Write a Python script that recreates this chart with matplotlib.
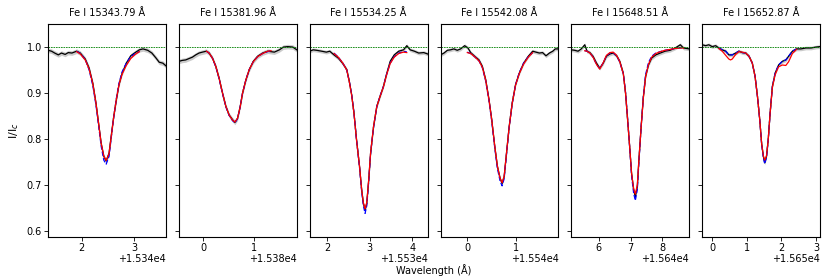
import matplotlib
matplotlib.use("Agg")
import matplotlib.pyplot as plt
import numpy as np

# line labels and wavelength offsets
titles = ["Fe I 15343.79 Å", "Fe I 15381.96 Å", "Fe I 15534.25 Å",
          "Fe I 15542.08 Å", "Fe I 15648.51 Å", "Fe I 15652.87 Å"]
offsets = [15340, 15380, 15530, 15540, 15640, 15650]
x_ranges = [(1.355, 3.61), (-0.487, 1.86), (1.59, 4.36),
            (-0.55, 1.876), (5.14, 8.84), (-0.29, 3.12)]
obs_err = [0.005, 0.005, 0.004, 0.004, 0.004, 0.004]

# observed spectra (offset wavelength, I/Ic)
p1_wave = [1.355, 1.42, 1.48, 1.55, 1.61, 1.68, 1.74, 1.81, 1.90, 1.97, 2.065, 2.14, 2.21, 2.27,
           2.32, 2.37, 2.42, 2.465, 2.52, 2.56, 2.61, 2.66, 2.71, 2.77, 2.85, 2.935, 3.02, 3.10,
           3.17, 3.26, 3.34, 3.42, 3.48, 3.55, 3.61]
p1_obs = [0.993, 0.991, 0.987, 0.983, 0.987, 0.984, 0.988, 0.987, 0.991, 0.987, 0.974, 0.954, 0.921,
          0.878, 0.834, 0.790, 0.762, 0.752, 0.769, 0.805, 0.849, 0.885, 0.918, 0.943, 0.965, 0.981,
          0.988, 0.994, 0.996, 0.993, 0.987, 0.976, 0.967, 0.965, 0.959]
p2_wave = [-0.487, -0.42, -0.353, -0.287, -0.22, -0.153, -0.087, -0.02, 0.06, 0.113, 0.18, 0.247,
           0.313, 0.38, 0.447, 0.513, 0.58, 0.627, 0.68, 0.733, 0.78, 0.847, 0.913, 0.993, 1.08,
           1.18, 1.28, 1.347, 1.413, 1.513, 1.593, 1.68, 1.78, 1.86]
p2_obs = [0.969, 0.971, 0.972, 0.975, 0.978, 0.983, 0.987, 0.989, 0.991, 0.987, 0.976, 0.958, 0.932,
          0.900, 0.871, 0.852, 0.842, 0.836, 0.845, 0.871, 0.900, 0.929, 0.951, 0.969, 0.980, 0.987,
          0.991, 0.990, 0.989, 0.994, 1.000, 1.001, 1.000, 0.994]
p3_wave = [1.59, 1.67, 1.75, 1.87, 1.98, 2.06, 2.16, 2.26, 2.36, 2.46, 2.52, 2.575, 2.63, 2.69, 2.76,
           2.81, 2.85, 2.89, 2.93, 2.976, 3.02, 3.09, 3.165, 3.24, 3.32, 3.40, 3.48, 3.575, 3.68,
           3.795, 3.87, 3.95, 4.05, 4.15, 4.27, 4.36]
p3_obs = [0.991, 0.994, 0.993, 0.991, 0.989, 0.991, 0.983, 0.976, 0.965, 0.951, 0.925, 0.896, 0.856,
          0.798, 0.740, 0.689, 0.660, 0.645, 0.660, 0.711, 0.769, 0.827, 0.871, 0.892, 0.914, 0.943,
          0.969, 0.983, 0.991, 0.994, 1.003, 0.994, 0.991, 0.987, 0.988, 0.985]
p4_wave = [-0.55, -0.48, -0.41, -0.345, -0.276, -0.207, -0.138, -0.055, 0.014, 0.069, 0.152, 0.241,
           0.31, 0.379, 0.448, 0.503, 0.566, 0.62, 0.676, 0.717, 0.759, 0.807, 0.862, 0.924, 0.993,
           1.069, 1.159, 1.255, 1.345, 1.414, 1.483, 1.55, 1.62, 1.69, 1.76, 1.81, 1.876]
p4_obs = [0.983, 0.987, 0.993, 0.994, 0.996, 0.993, 0.996, 1.003, 0.998, 0.988, 0.980, 0.972, 0.958,
          0.929, 0.885, 0.842, 0.783, 0.740, 0.714, 0.703, 0.718, 0.769, 0.827, 0.878, 0.918, 0.943,
          0.965, 0.980, 0.991, 0.989, 0.987, 0.988, 0.981, 0.987, 0.991, 0.996, 0.996]
p5_wave = [5.14, 5.24, 5.35, 5.45, 5.56, 5.63, 5.72, 5.82, 5.93, 6.03, 6.14, 6.24, 6.35, 6.45, 6.56,
           6.66, 6.77, 6.84, 6.905, 6.97, 7.03, 7.095, 7.147, 7.21, 7.26, 7.33, 7.40, 7.47, 7.56,
           7.66, 7.79, 7.93, 8.08, 8.24, 8.40, 8.56, 8.66, 8.84]
p5_obs = [0.994, 0.993, 0.991, 0.996, 1.005, 0.991, 0.988, 0.980, 0.965, 0.954, 0.965, 0.980, 0.985,
          0.987, 0.981, 0.969, 0.943, 0.900, 0.842, 0.783, 0.725, 0.689, 0.674, 0.696, 0.754, 0.827,
          0.892, 0.936, 0.961, 0.976, 0.983, 0.987, 0.991, 0.993, 0.998, 1.005, 0.998, 0.996]
p6_wave = [-0.29, -0.19, -0.10, 0.0, 0.10, 0.19, 0.29, 0.39, 0.48, 0.58, 0.68, 0.77, 0.87, 0.97,
           1.065, 1.16, 1.24, 1.31, 1.375, 1.43, 1.48, 1.52, 1.57, 1.62, 1.675, 1.74, 1.82, 1.92,
           2.03, 2.13, 2.21, 2.32, 2.44, 2.565, 2.71, 2.86, 3.0, 3.12]
p6_obs = [1.005, 1.003, 1.005, 1.001, 1.003, 0.998, 0.994, 0.991, 0.983, 0.983, 0.987, 0.991, 0.988,
          0.987, 0.980, 0.965, 0.936, 0.892, 0.842, 0.790, 0.762, 0.748, 0.762, 0.798, 0.856, 0.914,
          0.943, 0.961, 0.969, 0.972, 0.980, 0.991, 0.996, 0.996, 0.998, 0.998, 1.000, 1.001]

# synthetic fits: red = best fit, blue = alternative
p1_fit_wave = [1.90, 1.97, 2.065, 2.14, 2.21, 2.27, 2.32, 2.37, 2.42, 2.465, 2.52, 2.56, 2.61, 2.66,
               2.71, 2.77, 2.85, 2.935, 3.02, 3.10]
p1_red = [0.990, 0.985, 0.972, 0.952, 0.920, 0.878, 0.834, 0.790, 0.763, 0.753, 0.768, 0.803, 0.848,
          0.886, 0.918, 0.941, 0.960, 0.975, 0.984, 0.990]
p1_blue = [0.991, 0.986, 0.973, 0.950, 0.916, 0.874, 0.830, 0.784, 0.754, 0.745, 0.762, 0.800, 0.848,
           0.888, 0.921, 0.946, 0.965, 0.979, 0.986, 0.990]
p2_fit_wave = [0.06, 0.113, 0.18, 0.247, 0.313, 0.38, 0.447, 0.513, 0.58, 0.627, 0.68, 0.733, 0.78,
               0.847, 0.913, 0.993, 1.08, 1.18, 1.28, 1.347]
p2_red = [0.991, 0.987, 0.976, 0.958, 0.932, 0.900, 0.871, 0.852, 0.841, 0.837, 0.845, 0.870, 0.900,
          0.929, 0.951, 0.968, 0.979, 0.986, 0.991, 0.992]
p2_blue = [0.991, 0.987, 0.976, 0.957, 0.931, 0.899, 0.870, 0.851, 0.840, 0.835, 0.844, 0.870, 0.900,
           0.929, 0.951, 0.968, 0.979, 0.986, 0.990, 0.992]
p3_fit_wave = [2.16, 2.26, 2.36, 2.46, 2.52, 2.575, 2.63, 2.69, 2.76, 2.81, 2.85, 2.89, 2.93, 2.976,
               3.02, 3.09, 3.165, 3.24, 3.32, 3.40, 3.48, 3.575, 3.68, 3.795, 3.87]
p3_red = [0.986, 0.978, 0.966, 0.950, 0.924, 0.895, 0.855, 0.797, 0.740, 0.690, 0.661, 0.648, 0.662,
          0.712, 0.770, 0.828, 0.870, 0.892, 0.913, 0.941, 0.964, 0.978, 0.986, 0.989, 0.988]
p3_blue = [0.987, 0.978, 0.966, 0.950, 0.925, 0.896, 0.856, 0.797, 0.738, 0.686, 0.655, 0.638, 0.655,
           0.708, 0.768, 0.826, 0.870, 0.893, 0.914, 0.942, 0.965, 0.979, 0.987, 0.990, 0.990]
p4_fit_wave = [0.0, 0.069, 0.152, 0.241, 0.31, 0.379, 0.448, 0.503, 0.566, 0.62, 0.676, 0.717, 0.759,
               0.807, 0.862, 0.924, 0.993, 1.069, 1.159, 1.255, 1.345]
p4_red = [0.988, 0.986, 0.979, 0.970, 0.956, 0.928, 0.884, 0.842, 0.784, 0.741, 0.714, 0.705, 0.719,
          0.769, 0.826, 0.877, 0.917, 0.942, 0.963, 0.978, 0.988]
p4_blue = [0.989, 0.986, 0.979, 0.970, 0.955, 0.926, 0.882, 0.839, 0.780, 0.736, 0.708, 0.698, 0.714,
           0.766, 0.825, 0.877, 0.918, 0.944, 0.965, 0.979, 0.988]
p5_fit_wave = [5.56, 5.63, 5.72, 5.82, 5.93, 6.03, 6.14, 6.24, 6.35, 6.45, 6.56, 6.66, 6.77, 6.84,
               6.905, 6.97, 7.03, 7.095, 7.147, 7.21, 7.26, 7.33, 7.40, 7.47, 7.56, 7.66, 7.79, 7.93,
               8.08, 8.24, 8.40, 8.56, 8.66]
p5_red = [0.992, 0.991, 0.987, 0.978, 0.962, 0.952, 0.966, 0.982, 0.988, 0.989, 0.982, 0.968, 0.942,
          0.900, 0.842, 0.783, 0.725, 0.692, 0.680, 0.700, 0.755, 0.826, 0.890, 0.935, 0.962, 0.978,
          0.986, 0.990, 0.993, 0.995, 0.997, 0.998, 0.998]
p5_blue = [0.992, 0.991, 0.987, 0.978, 0.962, 0.953, 0.966, 0.981, 0.987, 0.988, 0.981, 0.967, 0.942,
           0.902, 0.845, 0.782, 0.720, 0.682, 0.666, 0.690, 0.750, 0.826, 0.893, 0.940, 0.966, 0.980,
           0.987, 0.990, 0.993, 0.995, 0.997, 0.998, 0.998]
p6_fit_wave = [0.19, 0.29, 0.39, 0.48, 0.53, 0.58, 0.68, 0.77, 0.87, 0.97, 1.065, 1.16, 1.24, 1.31,
               1.375, 1.43, 1.48, 1.52, 1.57, 1.62, 1.675, 1.74, 1.82, 1.92, 2.03, 2.13, 2.21, 2.32,
               2.44]
p6_red = [0.997, 0.991, 0.982, 0.974, 0.972, 0.974, 0.984, 0.990, 0.989, 0.987, 0.980, 0.965, 0.936,
          0.892, 0.842, 0.790, 0.763, 0.754, 0.763, 0.798, 0.856, 0.912, 0.940, 0.957, 0.961, 0.960,
          0.968, 0.986, 0.995]
p6_blue = [0.998, 0.994, 0.991, 0.983, 0.983, 0.983, 0.987, 0.991, 0.988, 0.987, 0.980, 0.965, 0.936,
           0.892, 0.842, 0.789, 0.759, 0.746, 0.760, 0.797, 0.856, 0.914, 0.943, 0.961, 0.969, 0.972,
           0.980, 0.991, 0.996]

panels = [
    (p1_wave, p1_obs, p1_fit_wave, p1_red, p1_blue),
    (p2_wave, p2_obs, p2_fit_wave, p2_red, p2_blue),
    (p3_wave, p3_obs, p3_fit_wave, p3_red, p3_blue),
    (p4_wave, p4_obs, p4_fit_wave, p4_red, p4_blue),
    (p5_wave, p5_obs, p5_fit_wave, p5_red, p5_blue),
    (p6_wave, p6_obs, p6_fit_wave, p6_red, p6_blue),
]


def main():
    fig, axes = plt.subplots(1, 6, figsize=(8.3, 2.77), dpi=100, sharey=True)
    fig.subplots_adjust(left=0.058, right=0.988, top=0.913, bottom=0.145, wspace=0.11)

    for i, ax in enumerate(axes):
        wave, obs, fwave, red, blue = panels[i]
        off = offsets[i]
        w = np.array(wave) + off
        o = np.array(obs)
        fw = np.array(fwave) + off
        ax.fill_between(w, o - obs_err[i], o + obs_err[i], color="0.55", alpha=0.45, lw=0)
        ax.plot(w, o, color="black", lw=0.9)
        ax.plot(fw, blue, color="blue", lw=0.9, ls="--")
        ax.plot(fw, red, color="red", lw=0.9)
        ax.axhline(1.0, color="green", lw=0.6, ls=(0, (2, 1)))
        ax.set_xlim(x_ranges[i][0] + off, x_ranges[i][1] + off)
        ax.set_title(titles[i], fontsize=7)
        ax.tick_params(labelsize=7, length=3, width=0.6, pad=1.5)
        ax.xaxis.get_offset_text().set_fontsize(7)
        ax.xaxis.OFFSETTEXTPAD = 0.5
        for s in ax.spines.values():
            s.set_linewidth(0.8)

    axes[0].set_ylim(0.587, 1.05)
    axes[0].set_yticks([0.6, 0.7, 0.8, 0.9, 1.0])
    axes[0].set_ylabel("I/I$_c$", fontsize=8)
    fig.text(0.522, 0.004, "Wavelength (Å)", ha="center", va="bottom", fontsize=7)

    fig.savefig("out.png", dpi=100)


if __name__ == '__main__':
    main()
